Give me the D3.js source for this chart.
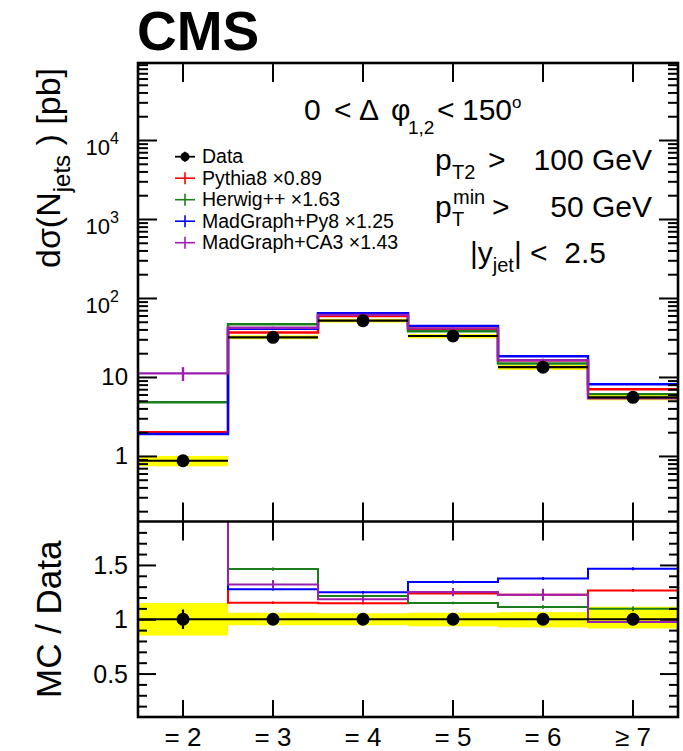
<!DOCTYPE html>
<html>
<head>
<meta charset="utf-8">
<script src="https://cdn.jsdelivr.net/npm/d3@7"></script>
<style>
  body { margin: 0; background: #fff; }
  svg { display: block; font-family: "Liberation Sans", Arial, Helvetica, sans-serif; }
  text { white-space: pre; }
</style>
</head>
<body>
<svg id="chart" width="683" height="751"></svg>
<script>
// Jet multiplicity bins
const categories = ["= 2", "= 3", "= 4", "= 5", "= 6", "≥ 7"];

// Measured cross section [pb] with relative stat. and syst. uncertainties
const dataXsec    = [0.87, 31.8, 51.6, 33.0, 13.3, 5.53];
const dataStatRel = [0.09, 0.01, 0.01, 0.01, 0.01, 0.015];
const dataSystLo  = [0.15, 0.055, 0.055, 0.065, 0.075, 0.085];
const dataSystHi  = [0.15, 0.06, 0.055, 0.06, 0.065, 0.115];

// Generator predictions [pb], already scaled by the legend factors
const pythia8   = [2.0, 36.6, 59.2, 40.8, 16.3, 7.0];
const herwig    = [4.78, 46.5, 62.7, 37.95, 14.8, 6.06];
const mgPy8     = [1.9, 40.6, 64.4, 44.3, 18.3, 8.1];
const mgCA3     = [11.1, 42.0, 61.1, 41.25, 16.3, 5.39];
// relative statistical uncertainty of each prediction
const pythia8Err = [0.02, 0.01, 0.01, 0.01, 0.015, 0.01];
const herwigErr  = [0.02, 0.01, 0.01, 0.01, 0.015, 0.02];
const mgPy8Err   = [0.03, 0.01, 0.01, 0.01, 0.01, 0.01];
const mgCA3Err   = [0.2, 0.03, 0.02, 0.03, 0.045, 0.03];

const seriesNames  = ["Pythia8 ×0.89", "Herwig++ ×1.63", "MadGraph+Py8 ×1.25", "MadGraph+CA3 ×1.43"];
const seriesColors = ["#ff0000", "#1a7f1a", "#0000ff", "#9b1fb0"];

// axis ticks
const logMajorExp   = [0, 1, 2, 3, 4];
const ratioMajor    = [0.5, 1, 1.5];
const ratioMajorLbl = ["0.5", "1", "1.5"];

const series = [
  { name: seriesNames[0], color: seriesColors[0], v: pythia8, e: pythia8Err },
  { name: seriesNames[1], color: seriesColors[1], v: herwig,  e: herwigErr },
  { name: seriesNames[2], color: seriesColors[2], v: mgPy8,   e: mgPy8Err },
  { name: seriesNames[3], color: seriesColors[3], v: mgCA3,   e: mgCA3Err }
];

const svg = d3.select("#chart");
const L = 138, R = 678, T = 63, MID = 521.5, B = 717;

const x = d3.scaleBand().domain(categories).range([L, R]).padding(0);
const bw = x.bandwidth();
const cx = c => x(c) + bw / 2;

const yTop = d3.scaleLog().domain([0.148, 9.44e4]).range([MID, T]);
const yRat = d3.scaleLinear().domain([0.1, 1.9]).range([B, MID]);

const defs = svg.append("defs");
defs.append("clipPath").attr("id", "clipTop")
  .append("rect").attr("x", L).attr("y", T).attr("width", R - L).attr("height", MID - T);
defs.append("clipPath").attr("id", "clipRat")
  .append("rect").attr("x", L).attr("y", MID).attr("width", R - L).attr("height", B - MID);

// step-histogram path helper
function stepLine(vals, yScale) {
  const pts = vals.map((v, i) => [x(categories[i]), yScale(v)]);
  pts.push([R, yScale(vals[vals.length - 1])]);
  return d3.line().curve(d3.curveStepAfter)(pts);
}

// ---------- upper panel ----------
const gTop = svg.append("g").attr("clip-path", "url(#clipTop)");

// systematic band
gTop.selectAll("rect.band").data(categories).join("rect")
  .attr("x", c => x(c)).attr("width", bw)
  .attr("y", (c, i) => yTop(dataXsec[i] * (1 + dataSystHi[i])))
  .attr("height", (c, i) => yTop(dataXsec[i] * (1 - dataSystLo[i])) - yTop(dataXsec[i] * (1 + dataSystHi[i])))
  .attr("fill", "#ffff00");

// predictions
series.forEach(s => {
  gTop.append("path").attr("d", stepLine(s.v, yTop))
    .attr("fill", "none").attr("stroke", s.color).attr("stroke-width", 2.4);
  gTop.selectAll(null).data(categories).join("line")
    .attr("x1", c => cx(c)).attr("x2", c => cx(c))
    .attr("y1", (c, i) => yTop(s.v[i] * (1 + s.e[i])))
    .attr("y2", (c, i) => yTop(s.v[i] * (1 - s.e[i])))
    .attr("stroke", s.color).attr("stroke-width", 2.4);
});

// data
gTop.selectAll("line.dh").data(categories).join("line")
  .attr("x1", c => x(c)).attr("x2", c => x(c) + bw)
  .attr("y1", (c, i) => yTop(dataXsec[i])).attr("y2", (c, i) => yTop(dataXsec[i]))
  .attr("stroke", "#000").attr("stroke-width", 2.2);
gTop.selectAll("line.dv").data(categories).join("line")
  .attr("x1", c => cx(c)).attr("x2", c => cx(c))
  .attr("y1", (c, i) => yTop(dataXsec[i] * (1 + dataStatRel[i])))
  .attr("y2", (c, i) => yTop(dataXsec[i] * (1 - dataStatRel[i])))
  .attr("stroke", "#000").attr("stroke-width", 2.2);
gTop.selectAll("circle.d").data(categories).join("circle")
  .attr("cx", c => cx(c)).attr("cy", (c, i) => yTop(dataXsec[i])).attr("r", 6.5).attr("fill", "#000");

// ---------- ratio panel ----------
const gRat = svg.append("g").attr("clip-path", "url(#clipRat)");
gRat.selectAll("rect.band").data(categories).join("rect")
  .attr("x", c => x(c)).attr("width", bw)
  .attr("y", (c, i) => yRat(1 + dataSystHi[i]))
  .attr("height", (c, i) => yRat(1 - dataSystLo[i]) - yRat(1 + dataSystHi[i]))
  .attr("fill", "#ffff00");

series.forEach(s => {
  const r = s.v.map((v, i) => v / dataXsec[i]);
  gRat.append("path").attr("d", stepLine(r, yRat))
    .attr("fill", "none").attr("stroke", s.color).attr("stroke-width", 2);
  gRat.selectAll(null).data(categories).join("line")
    .attr("x1", c => cx(c)).attr("x2", c => cx(c))
    .attr("y1", (c, i) => yRat(r[i] * (1 + s.e[i])))
    .attr("y2", (c, i) => yRat(r[i] * (1 - s.e[i])))
    .attr("stroke", s.color).attr("stroke-width", 2);
});

gRat.selectAll("line.dh").data(categories).join("line")
  .attr("x1", c => x(c)).attr("x2", c => x(c) + bw)
  .attr("y1", yRat(1)).attr("y2", yRat(1))
  .attr("stroke", "#000").attr("stroke-width", 2.2);
gRat.selectAll("line.dv").data(categories).join("line")
  .attr("x1", c => cx(c)).attr("x2", c => cx(c))
  .attr("y1", (c, i) => yRat(1 + dataStatRel[i])).attr("y2", (c, i) => yRat(1 - dataStatRel[i]))
  .attr("stroke", "#000").attr("stroke-width", 2.2);
gRat.selectAll("circle.d").data(categories).join("circle")
  .attr("cx", c => cx(c)).attr("cy", yRat(1)).attr("r", 6.5).attr("fill", "#000");

// ---------- axes / ticks ----------
function styleAxis(g) {
  g.select(".domain").remove();
  g.selectAll(".tick line").attr("stroke", "#000").attr("stroke-width", 2);
  g.selectAll(".tick text").remove();
}
const logMajor = logMajorExp.map(e => Math.pow(10, e));
const logMinor = [];
for (let e = -1; e <= 4; e++) for (let m = 2; m <= 9; m++) {
  const v = m * Math.pow(10, e);
  if (v >= yTop.domain()[0] && v <= yTop.domain()[1]) logMinor.push(v);
}
const ratMinor = d3.range(2, 19).map(k => k / 10).filter(v => !ratioMajor.includes(v));

svg.append("g").attr("transform", `translate(${L},0)`).call(d3.axisLeft(yTop).tickValues(logMajor).tickSize(-19)).call(styleAxis);
svg.append("g").attr("transform", `translate(${L},0)`).call(d3.axisLeft(yTop).tickValues(logMinor).tickSize(-10)).call(styleAxis);
svg.append("g").attr("transform", `translate(${R},0)`).call(d3.axisRight(yTop).tickValues(logMajor).tickSize(-19)).call(styleAxis);
svg.append("g").attr("transform", `translate(${R},0)`).call(d3.axisRight(yTop).tickValues(logMinor).tickSize(-10)).call(styleAxis);

svg.append("g").attr("transform", `translate(${L},0)`).call(d3.axisLeft(yRat).tickValues(ratioMajor).tickSize(-18)).call(styleAxis);
svg.append("g").attr("transform", `translate(${L},0)`).call(d3.axisLeft(yRat).tickValues(ratMinor).tickSize(-9)).call(styleAxis);
svg.append("g").attr("transform", `translate(${R},0)`).call(d3.axisRight(yRat).tickValues(ratioMajor).tickSize(-18)).call(styleAxis);
svg.append("g").attr("transform", `translate(${R},0)`).call(d3.axisRight(yRat).tickValues(ratMinor).tickSize(-9)).call(styleAxis);

svg.append("g").attr("transform", `translate(0,${T})`).call(d3.axisTop(x).tickSize(-19)).call(styleAxis);
svg.append("g").attr("transform", `translate(0,${MID})`).call(d3.axisBottom(x).tickSize(-19)).call(styleAxis);
svg.append("g").attr("transform", `translate(0,${MID})`).call(d3.axisTop(x).tickSize(-19)).call(styleAxis);
svg.append("g").attr("transform", `translate(0,${B})`).call(d3.axisBottom(x).tickSize(-17)).call(styleAxis);

// frames
svg.append("rect").attr("x", L).attr("y", T).attr("width", R - L).attr("height", B - T)
  .attr("fill", "none").attr("stroke", "#000").attr("stroke-width", 2.6);
svg.append("line").attr("x1", L).attr("x2", R).attr("y1", MID).attr("y2", MID)
  .attr("stroke", "#000").attr("stroke-width", 2.6);

// tick labels
logMajorExp.forEach(e => {
  const yy = yTop(Math.pow(10, e));
  if (e === 0 || e === 1) {
    svg.append("text").attr("x", 128).attr("y", yy + 8.5).attr("text-anchor", "end")
      .attr("font-size", 24).text(e === 0 ? "1" : "10");
  } else {
    const t = svg.append("text").attr("x", 119).attr("y", yy + 15).attr("text-anchor", "end").attr("font-size", 22);
    t.append("tspan").text("10");
    t.append("tspan").attr("font-size", 16).attr("dy", -11).text(String(e));
  }
});
ratioMajor.forEach((v, i) => {
  svg.append("text").attr("x", 128).attr("y", yRat(v) + 9).attr("text-anchor", "end")
    .attr("font-size", 25).text(ratioMajorLbl[i]);
});
categories.forEach(c => {
  svg.append("text").attr("x", cx(c)).attr("y", 746).attr("text-anchor", "middle")
    .attr("font-size", 26).text(c);
});

// axis titles
const yt = svg.append("text").attr("transform", "translate(60,168) rotate(-90)")
  .attr("text-anchor", "middle").attr("font-size", 34);
yt.append("tspan").text("dσ(N");
yt.append("tspan").attr("font-size", 24).attr("dy", 10).text("jets");
yt.append("tspan").attr("dy", -10).text(" ) [pb]");

svg.append("text").attr("transform", `translate(61,${yRat(1)}) rotate(-90)`)
  .attr("text-anchor", "middle").attr("font-size", 35).text("MC / Data");

// CMS label
svg.append("text").attr("x", 137).attr("y", 50).attr("font-size", 55).attr("font-weight", "bold").text("CMS");

// selection label
const sel = svg.append("g").attr("font-size", 30);
sel.append("text").attr("x", 304).attr("y", 119.5).text("0");
sel.append("text").attr("x", 334).attr("y", 119.5).text("<");
sel.append("text").attr("x", 359).attr("y", 119.5).text("Δ");
sel.append("text").attr("x", 391).attr("y", 119.5).text("φ");
sel.append("text").attr("x", 408).attr("y", 134).attr("font-size", 19).text("1,2");
sel.append("text").attr("x", 437).attr("y", 119.5).text("<");
sel.append("text").attr("x", 462).attr("y", 119.5).text("150");
sel.append("text").attr("x", 512).attr("y", 108).attr("font-size", 17).text("o");

// kinematic cuts
const k = svg.append("g").attr("font-size", 30);
k.append("text").attr("x", 435).attr("y", 170).text("p");
k.append("text").attr("x", 452).attr("y", 179).attr("font-size", 20).text("T2");
k.append("text").attr("x", 488).attr("y", 170).text(">");
k.append("text").attr("x", 652).attr("y", 170).attr("text-anchor", "end").text("100 GeV");

k.append("text").attr("x", 435).attr("y", 217).text("p");
k.append("text").attr("x", 452).attr("y", 226).attr("font-size", 20).text("T");
k.append("text").attr("x", 453).attr("y", 204).attr("font-size", 20).text("min");
k.append("text").attr("x", 492).attr("y", 217).text(">");
k.append("text").attr("x", 652).attr("y", 217).attr("text-anchor", "end").text("50 GeV");

const k3 = k.append("text").attr("x", 470).attr("y", 263);
k3.append("tspan").text("|y");
k3.append("tspan").attr("font-size", 20).attr("dy", 9).text("jet");
k3.append("tspan").attr("dy", -9).text("| <  2.5");

// legend
const leg = svg.append("g");
const legY0 = 156.7, legDy = 21.5;
const lr0 = leg.append("g").attr("transform", `translate(185,${legY0})`);
lr0.append("line").attr("x1", -10).attr("x2", 10).attr("stroke", "#000").attr("stroke-width", 1.8);
lr0.append("line").attr("y1", -5).attr("y2", 5).attr("stroke", "#000").attr("stroke-width", 1.8);
lr0.append("circle").attr("r", 4.5).attr("fill", "#000");
leg.append("text").attr("x", 202).attr("y", legY0 + 6.5).attr("font-size", 19.5).text("Data");
series.forEach((s, i) => {
  const yy = legY0 + legDy * (i + 1);
  const g = leg.append("g").attr("transform", `translate(185,${yy})`);
  g.append("line").attr("x1", -10).attr("x2", 10).attr("stroke", s.color).attr("stroke-width", 1.6);
  g.append("line").attr("y1", -6).attr("y2", 6).attr("stroke", s.color).attr("stroke-width", 1.6);
  leg.append("text").attr("x", 202).attr("y", yy + 6.5).attr("font-size", 19.5).text(s.name);
});
</script>
</body>
</html>
